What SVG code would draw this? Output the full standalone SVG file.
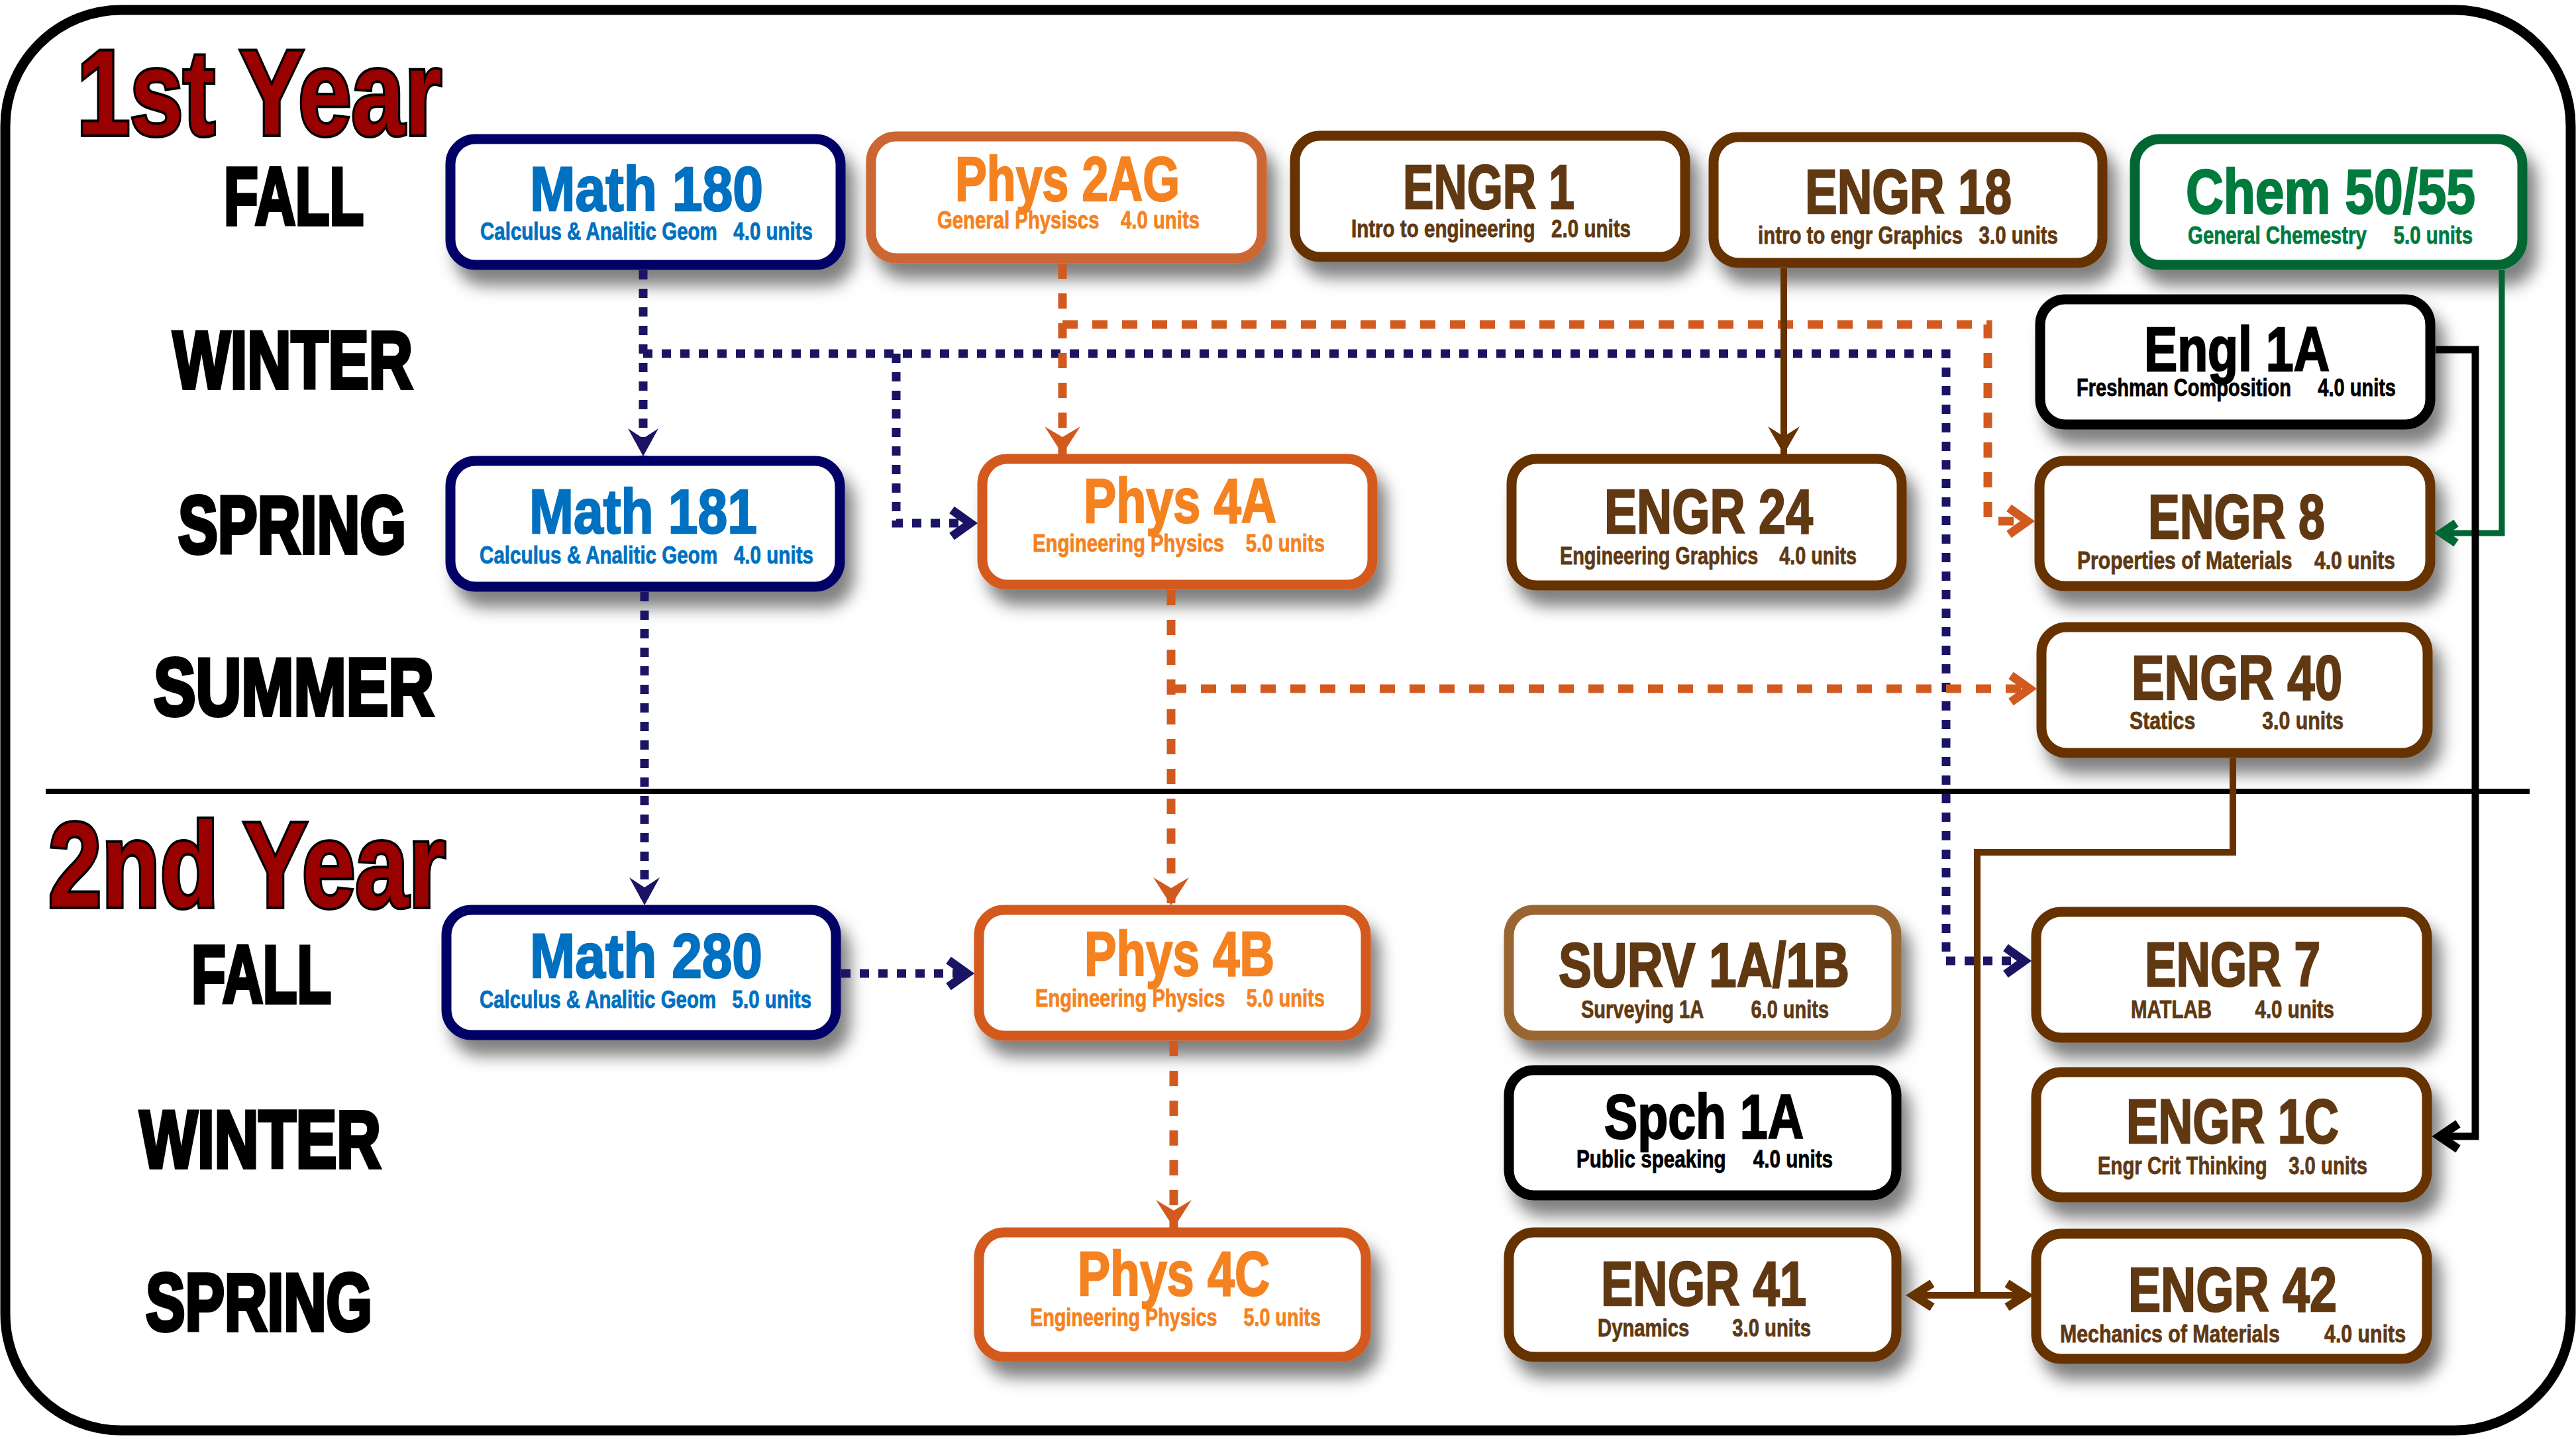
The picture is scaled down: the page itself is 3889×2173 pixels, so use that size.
<svg xmlns="http://www.w3.org/2000/svg" width="3889" height="2173" viewBox="0 0 3889 2173">
<defs>
<style>
.f{font-family:"Liberation Sans Narrow","Liberation Sans",Arial,sans-serif;font-weight:bold}
.box{fill:#fff;stroke-width:15;filter:url(#sh)}
.bNavy{stroke:#000066}.bP2{stroke:#CC6633}.bPh{stroke:#D35A1F}.bBr{stroke:#663300}.bSv{stroke:#996633}.bGr{stroke:#006633}.bBk{stroke:#000}
.t{font-size:95px;stroke-width:2.5}.s{font-size:36px;stroke-width:0.8}
.blue{fill:#0070C0;stroke:#0070C0}.orange{fill:#F58220;stroke:#F58220}.brown{fill:#603913;stroke:#603913}.green{fill:#007A3D;stroke:#007A3D}.black{fill:#000;stroke:#000}
.season{font-size:122px;fill:#000;stroke:#000;stroke-width:6}
.year{font-size:182px;fill:#990000;stroke:#000;stroke-width:8;paint-order:stroke}
.nav{stroke:#1B1464;stroke-width:13;fill:none;stroke-dasharray:14 14}
.ora{stroke:#D35A1F;stroke-width:13;fill:none;stroke-dasharray:23 22}
.brn{stroke:#663300;stroke-width:10;fill:none}
.grn{stroke:#006633;stroke-width:9;fill:none}
.blk{stroke:#000;stroke-width:11;fill:none}
.chev{fill:none;stroke-width:13;stroke-dasharray:none;stroke-linejoin:miter}
</style>
<filter id="sh" x="-10%" y="-15%" width="125%" height="150%">
<feDropShadow dx="14" dy="24" stdDeviation="12" flood-color="#000" flood-opacity="0.5"/>
</filter>
<marker id="cN" markerUnits="userSpaceOnUse" orient="auto" refX="0" refY="0" markerWidth="1" markerHeight="1" overflow="visible"><path class="chev" stroke="#1B1464" d="M-28,-20 L0,0 L-28,20"/></marker>
<marker id="cO" markerUnits="userSpaceOnUse" orient="auto" refX="0" refY="0" markerWidth="1" markerHeight="1" overflow="visible"><path class="chev" stroke="#D35A1F" d="M-28,-20 L0,0 L-28,20"/></marker>
<marker id="cB" markerUnits="userSpaceOnUse" orient="auto-start-reverse" refX="0" refY="0" markerWidth="1" markerHeight="1" overflow="visible"><path class="chev" stroke="#663300" stroke-width="11" d="M-28,-18 L0,0 L-28,18"/></marker>
<marker id="cG" markerUnits="userSpaceOnUse" orient="auto" refX="0" refY="0" markerWidth="1" markerHeight="1" overflow="visible"><path class="chev" stroke="#006633" stroke-width="10" d="M-22,-15 L0,0 L-22,15"/></marker>
<marker id="cK" markerUnits="userSpaceOnUse" orient="auto" refX="0" refY="0" markerWidth="1" markerHeight="1" overflow="visible"><path class="chev" stroke="#000" stroke-width="12" d="M-28,-19 L0,0 L-28,19"/></marker>
<marker id="sN" markerUnits="userSpaceOnUse" orient="auto" refX="0" refY="0" markerWidth="1" markerHeight="1" overflow="visible"><path fill="#1B1464" d="M0,0 L-42,-23 L-27,0 L-42,23 Z"/></marker>
<marker id="sO" markerUnits="userSpaceOnUse" orient="auto" refX="0" refY="0" markerWidth="1" markerHeight="1" overflow="visible"><path fill="#D35A1F" d="M0,0 L-42,-27 L-26,0 L-42,27 Z"/></marker>
<marker id="sB" markerUnits="userSpaceOnUse" orient="auto" refX="0" refY="0" markerWidth="1" markerHeight="1" overflow="visible"><path fill="#663300" d="M0,0 L-42,-24 L-27,0 L-42,24 Z"/></marker>
</defs>
<rect x="0" y="0" width="3889" height="2173" fill="#fff"/>
<rect id="frame" x="8" y="15" width="3873" height="2145" rx="175" ry="175" fill="#fff" stroke="#000" stroke-width="15"/>
<line id="divider" x1="69" y1="1195" x2="3819" y2="1195" stroke="#000" stroke-width="8"/>

<g id="labels" class="f">
<text class="year" x="116" y="203" textLength="551" lengthAdjust="spacingAndGlyphs">1st Year</text>
<text class="year" x="73" y="1369" textLength="600" lengthAdjust="spacingAndGlyphs">2nd Year</text>
<text class="season" x="338" y="339" textLength="211" lengthAdjust="spacingAndGlyphs">FALL</text>
<text class="season" x="261" y="586" textLength="362" lengthAdjust="spacingAndGlyphs">WINTER</text>
<text class="season" x="269" y="835" textLength="344" lengthAdjust="spacingAndGlyphs">SPRING</text>
<text class="season" x="232" y="1080" textLength="423" lengthAdjust="spacingAndGlyphs">SUMMER</text>
<text class="season" x="289" y="1514" textLength="211" lengthAdjust="spacingAndGlyphs">FALL</text>
<text class="season" x="211" y="1763" textLength="364" lengthAdjust="spacingAndGlyphs">WINTER</text>
<text class="season" x="220" y="2009" textLength="342" lengthAdjust="spacingAndGlyphs">SPRING</text>
</g>

<g id="math180" class="f">
<rect class="box bNavy" x="680" y="210" width="589" height="190" rx="38"/>
<text class="t blue" x="800" y="318" textLength="352" lengthAdjust="spacingAndGlyphs">Math 180</text>
<text class="s blue" x="725" y="362" xml:space="preserve" textLength="502" lengthAdjust="spacingAndGlyphs">Calculus &amp; Analitic Geom   4.0 units</text>
</g>
<g id="phys2ag" class="f">
<rect class="box bP2" x="1315" y="206" width="590" height="184" rx="38"/>
<text class="t orange" x="1442" y="303" textLength="339" lengthAdjust="spacingAndGlyphs">Phys 2AG</text>
<text class="s orange" x="1415" y="345" xml:space="preserve" textLength="396" lengthAdjust="spacingAndGlyphs">General Physiscs    4.0 units</text>
</g>
<g id="engr1" class="f">
<rect class="box bBr" x="1955" y="205" width="589" height="183" rx="38"/>
<text class="t brown" x="2118" y="315" textLength="259" lengthAdjust="spacingAndGlyphs">ENGR 1</text>
<text class="s brown" x="2040" y="358" xml:space="preserve" textLength="422" lengthAdjust="spacingAndGlyphs">Intro to engineering   2.0 units</text>
</g>
<g id="engr18" class="f">
<rect class="box bBr" x="2587" y="207" width="587" height="190" rx="38"/>
<text class="t brown" x="2725" y="322" textLength="312" lengthAdjust="spacingAndGlyphs">ENGR 18</text>
<text class="s brown" x="2654" y="368" xml:space="preserve" textLength="453" lengthAdjust="spacingAndGlyphs">intro to engr Graphics   3.0 units</text>
</g>
<g id="chem5055" class="f">
<rect class="box bGr" x="3223" y="210" width="585" height="190" rx="38"/>
<text class="t green" x="3300" y="322" textLength="437" lengthAdjust="spacingAndGlyphs">Chem 50/55</text>
<text class="s green" x="3303" y="368" xml:space="preserve" textLength="430" lengthAdjust="spacingAndGlyphs">General Chemestry     5.0 units</text>
</g>
<g id="engl1a" class="f">
<rect class="box bBk" x="3080" y="452" width="589" height="189" rx="38"/>
<text class="t black" x="3237" y="560" textLength="280" lengthAdjust="spacingAndGlyphs">Engl 1A</text>
<text class="s black" x="3135" y="598" xml:space="preserve" textLength="482" lengthAdjust="spacingAndGlyphs">Freshman Composition     4.0 units</text>
</g>
<g id="engr8" class="f">
<rect class="box bBr" x="3079" y="696" width="590" height="189" rx="38"/>
<text class="t brown" x="3243" y="813" textLength="267" lengthAdjust="spacingAndGlyphs">ENGR 8</text>
<text class="s brown" x="3136" y="859" xml:space="preserve" textLength="480" lengthAdjust="spacingAndGlyphs">Properties of Materials    4.0 units</text>
</g>
<g id="math181" class="f">
<rect class="box bNavy" x="680" y="696" width="588" height="190" rx="38"/>
<text class="t blue" x="799" y="805" textLength="344" lengthAdjust="spacingAndGlyphs">Math 181</text>
<text class="s blue" x="724" y="851" xml:space="preserve" textLength="504" lengthAdjust="spacingAndGlyphs">Calculus &amp; Analitic Geom   4.0 units</text>
</g>
<g id="phys4a" class="f">
<rect class="box bPh" x="1483" y="693" width="589" height="190" rx="38"/>
<text class="t orange" x="1636" y="789" textLength="291" lengthAdjust="spacingAndGlyphs">Phys 4A</text>
<text class="s orange" x="1559" y="833" xml:space="preserve" textLength="441" lengthAdjust="spacingAndGlyphs">Engineering Physics    5.0 units</text>
</g>
<g id="engr24" class="f">
<rect class="box bBr" x="2282" y="693" width="589" height="191" rx="38"/>
<text class="t brown" x="2422" y="805" textLength="315" lengthAdjust="spacingAndGlyphs">ENGR 24</text>
<text class="s brown" x="2355" y="852" xml:space="preserve" textLength="448" lengthAdjust="spacingAndGlyphs">Engineering Graphics    4.0 units</text>
</g>
<g id="engr40" class="f">
<rect class="box bBr" x="3082" y="947" width="583" height="190" rx="38"/>
<text class="t brown" x="3218" y="1056" textLength="318" lengthAdjust="spacingAndGlyphs">ENGR 40</text>
<text class="s brown" x="3215" y="1101" xml:space="preserve" textLength="323" lengthAdjust="spacingAndGlyphs">Statics            3.0 units</text>
</g>
<g id="math280" class="f">
<rect class="box bNavy" x="674" y="1374" width="588" height="189" rx="38"/>
<text class="t blue" x="800" y="1476" textLength="351" lengthAdjust="spacingAndGlyphs">Math 280</text>
<text class="s blue" x="724" y="1522" xml:space="preserve" textLength="501" lengthAdjust="spacingAndGlyphs">Calculus &amp; Analitic Geom   5.0 units</text>
</g>
<g id="phys4b" class="f">
<rect class="box bPh" x="1478" y="1374" width="584" height="190" rx="38"/>
<text class="t orange" x="1637" y="1473" textLength="287" lengthAdjust="spacingAndGlyphs">Phys 4B</text>
<text class="s orange" x="1563" y="1520" xml:space="preserve" textLength="437" lengthAdjust="spacingAndGlyphs">Engineering Physics    5.0 units</text>
</g>
<g id="surv1a1b" class="f">
<rect class="box bSv" x="2278" y="1374" width="585" height="190" rx="38"/>
<text class="t brown" x="2353" y="1490" textLength="439" lengthAdjust="spacingAndGlyphs">SURV 1A/1B</text>
<text class="s brown" x="2387" y="1537" xml:space="preserve" textLength="374" lengthAdjust="spacingAndGlyphs">Surveying 1A         6.0 units</text>
</g>
<g id="engr7" class="f">
<rect class="box bBr" x="3074" y="1377" width="590" height="190" rx="38"/>
<text class="t brown" x="3238" y="1489" textLength="265" lengthAdjust="spacingAndGlyphs">ENGR 7</text>
<text class="s brown" x="3217" y="1537" xml:space="preserve" textLength="307" lengthAdjust="spacingAndGlyphs">MATLAB        4.0 units</text>
</g>
<g id="spch1a" class="f">
<rect class="box bBk" x="2278" y="1616" width="585" height="189" rx="38"/>
<text class="t black" x="2422" y="1719" textLength="301" lengthAdjust="spacingAndGlyphs">Spch 1A</text>
<text class="s black" x="2380" y="1763" xml:space="preserve" textLength="387" lengthAdjust="spacingAndGlyphs">Public speaking     4.0 units</text>
</g>
<g id="engr1c" class="f">
<rect class="box bBr" x="3074" y="1619" width="590" height="189" rx="38"/>
<text class="t brown" x="3210" y="1726" textLength="321" lengthAdjust="spacingAndGlyphs">ENGR 1C</text>
<text class="s brown" x="3167" y="1773" xml:space="preserve" textLength="407" lengthAdjust="spacingAndGlyphs">Engr Crit Thinking    3.0 units</text>
</g>
<g id="phys4c" class="f">
<rect class="box bPh" x="1478" y="1861" width="584" height="188" rx="38"/>
<text class="t orange" x="1627" y="1956" textLength="290" lengthAdjust="spacingAndGlyphs">Phys 4C</text>
<text class="s orange" x="1555" y="2002" xml:space="preserve" textLength="439" lengthAdjust="spacingAndGlyphs">Engineering Physics     5.0 units</text>
</g>
<g id="engr41" class="f">
<rect class="box bBr" x="2278" y="1861" width="585" height="188" rx="38"/>
<text class="t brown" x="2417" y="1971" textLength="310" lengthAdjust="spacingAndGlyphs">ENGR 41</text>
<text class="s brown" x="2412" y="2018" xml:space="preserve" textLength="322" lengthAdjust="spacingAndGlyphs">Dynamics        3.0 units</text>
</g>
<g id="engr42" class="f">
<rect class="box bBr" x="3074" y="1863" width="590" height="189" rx="38"/>
<text class="t brown" x="3213" y="1980" textLength="315" lengthAdjust="spacingAndGlyphs">ENGR 42</text>
<text class="s brown" x="3110" y="2027" xml:space="preserve" textLength="522" lengthAdjust="spacingAndGlyphs">Mechanics of Materials        4.0 units</text>
</g>

<g id="connectors">
<path class="nav" d="M971,408 V689" marker-end="url(#sN)"/>
<path class="nav" d="M971,534 H2938 V1451 H3056" marker-end="url(#cN)"/>
<path class="nav" d="M1353,534 V790 H1465" marker-end="url(#cN)"/>
<path class="nav" d="M973,894 V1367" marker-end="url(#sN)"/>
<path class="nav" d="M1270,1470 H1460" marker-end="url(#cN)"/>
<path class="ora" d="M1604,398 V686" marker-end="url(#sO)"/>
<path class="ora" d="M1604,490 H3001 V787 H3061" marker-end="url(#cO)"/>
<path class="ora" d="M1768,891 V1367" marker-end="url(#sO)"/>
<path class="ora" d="M1768,1040 H3064" marker-end="url(#cO)"/>
<path class="ora" d="M1772,1572 V1854" marker-end="url(#sO)"/>
<path class="brn" d="M2693,405 V686" marker-end="url(#sB)"/>
<path class="brn" d="M3371,1145 V1287 H2985 V1956"/>
<path class="brn" d="M2889,1956 H3058" marker-start="url(#cB)" marker-end="url(#cB)"/>
<path class="grn" d="M3777,408 V805 H3686" marker-end="url(#cG)"/>
<path class="blk" d="M3677,528 H3737 V1716 H3683" marker-end="url(#cK)"/>
</g>
</svg>
